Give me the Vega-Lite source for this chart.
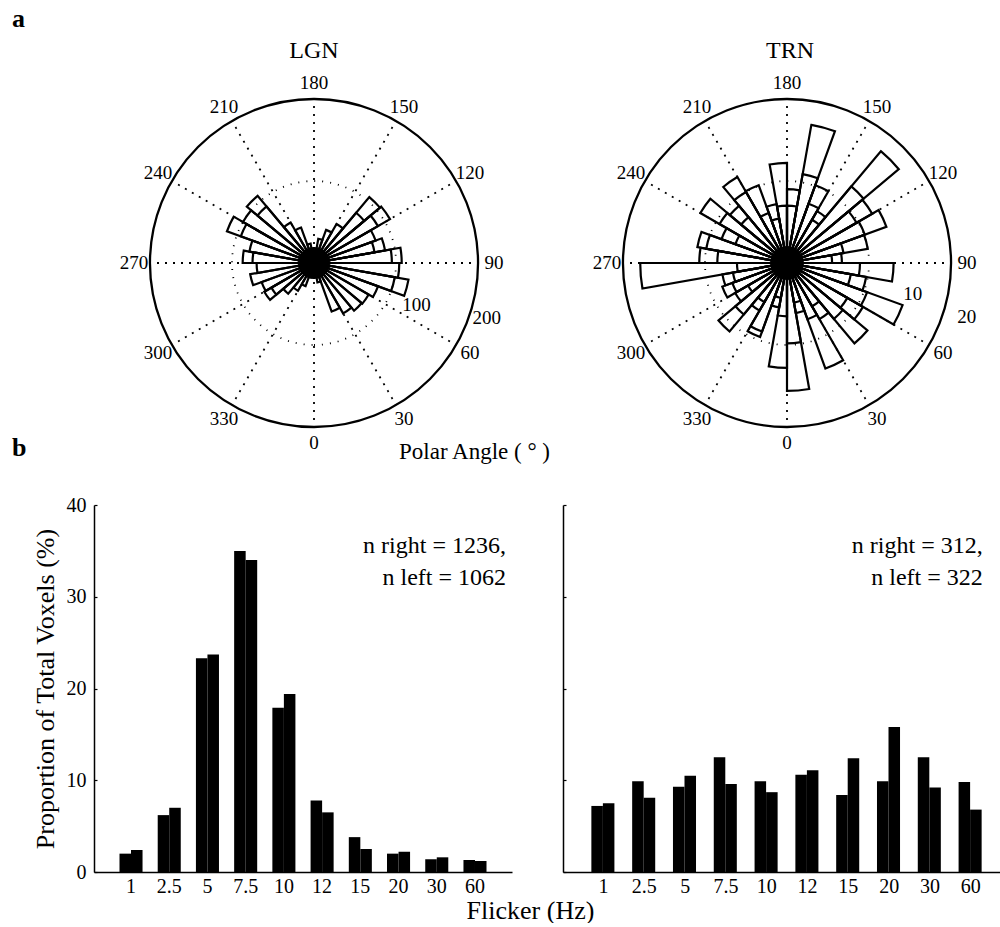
{
  "$schema": "https://vega.github.io/schema/vega-lite/v6.json",
  "background": "white",
  "padding": {"left": 12, "top": 6, "right": 0, "bottom": 0},
  "title": {"text": "a", "anchor": "start", "frame": "group", "dx": -82, "offset": 7, "fontSize": 26, "fontWeight": "bold", "font": "Liberation Serif", "color": "black"},
  "config": {
    "font": "Liberation Serif",
    "view": {"stroke": null},
    "axis": {"domainColor": "black", "tickColor": "black", "labelColor": "black", "titleColor": "black", "labelFont": "Liberation Serif", "titleFont": "Liberation Serif", "titleFontWeight": "normal", "grid": false},
    "title": {"font": "Liberation Serif", "fontWeight": "normal", "color": "black"},
    "text": {"font": "Liberation Serif", "color": "black"}
  },
  "datasets": {
    "angles": [
      {"ang": 0, "lab": "0"}, {"ang": 30, "lab": "30"}, {"ang": 60, "lab": "60"}, {"ang": 90, "lab": "90"},
      {"ang": 120, "lab": "120"}, {"ang": 150, "lab": "150"}, {"ang": 180, "lab": "180"}, {"ang": 210, "lab": "210"},
      {"ang": 240, "lab": "240"}, {"ang": 270, "lab": "270"}, {"ang": 300, "lab": "300"}, {"ang": 330, "lab": "330"}
    ],
    "lgnW": [
      {"t0": 0, "t1": 10, "r": 10}, {"t0": 10, "t1": 20, "r": 24}, {"t0": 20, "t1": 30, "r": 63}, {"t0": 30, "t1": 40, "r": 71},
      {"t0": 40, "t1": 50, "r": 76}, {"t0": 50, "t1": 60, "r": 77}, {"t0": 60, "t1": 70, "r": 83}, {"t0": 70, "t1": 80, "r": 117},
      {"t0": 80, "t1": 90, "r": 104}, {"t0": 90, "t1": 100, "r": 107}, {"t0": 100, "t1": 110, "r": 88}, {"t0": 110, "t1": 120, "r": 80},
      {"t0": 120, "t1": 130, "r": 107}, {"t0": 130, "t1": 140, "r": 105}, {"t0": 140, "t1": 150, "r": 55}, {"t0": 150, "t1": 160, "r": 43},
      {"t0": 160, "t1": 170, "r": 30}, {"t0": 170, "t1": 180, "r": 15}, {"t0": 180, "t1": 190, "r": 12}, {"t0": 190, "t1": 200, "r": 24},
      {"t0": 200, "t1": 210, "r": 46}, {"t0": 210, "t1": 220, "r": 57}, {"t0": 220, "t1": 230, "r": 107}, {"t0": 230, "t1": 240, "r": 100},
      {"t0": 240, "t1": 250, "r": 113}, {"t0": 250, "t1": 260, "r": 80}, {"t0": 260, "t1": 270, "r": 87}, {"t0": 270, "t1": 280, "r": 70},
      {"t0": 280, "t1": 290, "r": 79}, {"t0": 290, "t1": 300, "r": 68}, {"t0": 300, "t1": 310, "r": 70}, {"t0": 310, "t1": 320, "r": 49},
      {"t0": 320, "t1": 330, "r": 39}, {"t0": 330, "t1": 340, "r": 30}, {"t0": 340, "t1": 350, "r": 18}, {"t0": 350, "t1": 360, "r": 12}
    ],
    "lgnS": [
      {"t0": 70, "t1": 80, "r": 100}, {"t0": 90, "t1": 100, "r": 95}, {"t0": 100, "t1": 110, "r": 75},
      {"t0": 120, "t1": 130, "r": 90}, {"t0": 130, "t1": 140, "r": 80}, {"t0": 220, "t1": 230, "r": 90},
      {"t0": 240, "t1": 250, "r": 95}, {"t0": 260, "t1": 270, "r": 75}, {"t0": 300, "t1": 310, "r": 60}
    ],
    "trnW": [
      {"t0": 0, "t1": 10, "r": 15.6}, {"t0": 10, "t1": 20, "r": 6.2}, {"t0": 20, "t1": 30, "r": 13.7}, {"t0": 30, "t1": 40, "r": 7.9},
      {"t0": 40, "t1": 50, "r": 12.8}, {"t0": 50, "t1": 60, "r": 10.7}, {"t0": 60, "t1": 70, "r": 15.0}, {"t0": 70, "t1": 80, "r": 9.8},
      {"t0": 80, "t1": 90, "r": 13.0}, {"t0": 90, "t1": 100, "r": 6.7}, {"t0": 100, "t1": 110, "r": 10.0}, {"t0": 110, "t1": 120, "r": 12.9},
      {"t0": 120, "t1": 130, "r": 12.0}, {"t0": 130, "t1": 140, "r": 17.8}, {"t0": 140, "t1": 150, "r": 7.3}, {"t0": 150, "t1": 160, "r": 10.1},
      {"t0": 160, "t1": 170, "r": 17.1}, {"t0": 170, "t1": 180, "r": 9.0}, {"t0": 180, "t1": 190, "r": 12.2}, {"t0": 190, "t1": 200, "r": 7.3},
      {"t0": 200, "t1": 210, "r": 10.1}, {"t0": 210, "t1": 220, "r": 12.1}, {"t0": 220, "t1": 230, "r": 9.1}, {"t0": 230, "t1": 240, "r": 12.2},
      {"t0": 240, "t1": 250, "r": 8.5}, {"t0": 250, "t1": 260, "r": 11.1}, {"t0": 260, "t1": 270, "r": 10.7}, {"t0": 270, "t1": 280, "r": 17.9},
      {"t0": 280, "t1": 290, "r": 8.0}, {"t0": 290, "t1": 300, "r": 8.4}, {"t0": 300, "t1": 310, "r": 7.3}, {"t0": 310, "t1": 320, "r": 10.9},
      {"t0": 320, "t1": 330, "r": 6.7}, {"t0": 330, "t1": 340, "r": 9.6}, {"t0": 340, "t1": 350, "r": 5.5}, {"t0": 350, "t1": 360, "r": 12.8}
    ],
    "trnS": [
      {"t0": 0, "t1": 10, "r": 9.8}, {"t0": 10, "t1": 20, "r": 4.9}, {"t0": 20, "t1": 30, "r": 7.3}, {"t0": 30, "t1": 40, "r": 6.1},
      {"t0": 40, "t1": 50, "r": 8.9}, {"t0": 50, "t1": 60, "r": 8.5}, {"t0": 60, "t1": 70, "r": 10.4}, {"t0": 70, "t1": 80, "r": 7.9},
      {"t0": 80, "t1": 90, "r": 8.9}, {"t0": 90, "t1": 100, "r": 5.5}, {"t0": 100, "t1": 110, "r": 7.0}, {"t0": 110, "t1": 120, "r": 10.1},
      {"t0": 120, "t1": 130, "r": 9.8}, {"t0": 130, "t1": 140, "r": 12.2}, {"t0": 140, "t1": 150, "r": 6.1}, {"t0": 150, "t1": 160, "r": 7.7},
      {"t0": 160, "t1": 170, "r": 11.0}, {"t0": 170, "t1": 180, "r": 7.0}, {"t0": 180, "t1": 190, "r": 7.0}, {"t0": 190, "t1": 200, "r": 5.5},
      {"t0": 200, "t1": 210, "r": 6.5}, {"t0": 210, "t1": 220, "r": 10.0}, {"t0": 220, "t1": 230, "r": 7.3}, {"t0": 230, "t1": 240, "r": 9.5},
      {"t0": 240, "t1": 250, "r": 6.7}, {"t0": 250, "t1": 260, "r": 10.0}, {"t0": 260, "t1": 270, "r": 8.5}, {"t0": 270, "t1": 280, "r": 6.1},
      {"t0": 280, "t1": 290, "r": 6.7}, {"t0": 290, "t1": 300, "r": 7.1}, {"t0": 300, "t1": 310, "r": 5.5}, {"t0": 310, "t1": 320, "r": 8.2},
      {"t0": 320, "t1": 330, "r": 5.5}, {"t0": 330, "t1": 340, "r": 8.9}, {"t0": 340, "t1": 350, "r": 4.3}, {"t0": 350, "t1": 360, "r": 6.5}
    ],
    "lgnR": [{"lab": "100", "ang": 67.8, "rad": 135}, {"lab": "200", "ang": 72.3, "rad": 221}],
    "trnR": [{"lab": "10", "ang": 76.2, "rad": 15.8}, {"lab": "20", "ang": 73.3, "rad": 22.9}],
    "bars": [
      {"reg": "LGN", "freq": "1", "side": "right", "pct": 2.0}, {"reg": "LGN", "freq": "1", "side": "left", "pct": 2.4},
      {"reg": "LGN", "freq": "2.5", "side": "right", "pct": 6.2}, {"reg": "LGN", "freq": "2.5", "side": "left", "pct": 7.0},
      {"reg": "LGN", "freq": "5", "side": "right", "pct": 23.3}, {"reg": "LGN", "freq": "5", "side": "left", "pct": 23.7},
      {"reg": "LGN", "freq": "7.5", "side": "right", "pct": 35.0}, {"reg": "LGN", "freq": "7.5", "side": "left", "pct": 34.0},
      {"reg": "LGN", "freq": "10", "side": "right", "pct": 17.9}, {"reg": "LGN", "freq": "10", "side": "left", "pct": 19.4},
      {"reg": "LGN", "freq": "12", "side": "right", "pct": 7.8}, {"reg": "LGN", "freq": "12", "side": "left", "pct": 6.5},
      {"reg": "LGN", "freq": "15", "side": "right", "pct": 3.8}, {"reg": "LGN", "freq": "15", "side": "left", "pct": 2.5},
      {"reg": "LGN", "freq": "20", "side": "right", "pct": 2.0}, {"reg": "LGN", "freq": "20", "side": "left", "pct": 2.2},
      {"reg": "LGN", "freq": "30", "side": "right", "pct": 1.4}, {"reg": "LGN", "freq": "30", "side": "left", "pct": 1.6},
      {"reg": "LGN", "freq": "60", "side": "right", "pct": 1.3}, {"reg": "LGN", "freq": "60", "side": "left", "pct": 1.2},
      {"reg": "TRN", "freq": "1", "side": "right", "pct": 7.2}, {"reg": "TRN", "freq": "1", "side": "left", "pct": 7.5},
      {"reg": "TRN", "freq": "2.5", "side": "right", "pct": 9.9}, {"reg": "TRN", "freq": "2.5", "side": "left", "pct": 8.1},
      {"reg": "TRN", "freq": "5", "side": "right", "pct": 9.3}, {"reg": "TRN", "freq": "5", "side": "left", "pct": 10.5},
      {"reg": "TRN", "freq": "7.5", "side": "right", "pct": 12.5}, {"reg": "TRN", "freq": "7.5", "side": "left", "pct": 9.6},
      {"reg": "TRN", "freq": "10", "side": "right", "pct": 9.9}, {"reg": "TRN", "freq": "10", "side": "left", "pct": 8.7},
      {"reg": "TRN", "freq": "12", "side": "right", "pct": 10.6}, {"reg": "TRN", "freq": "12", "side": "left", "pct": 11.1},
      {"reg": "TRN", "freq": "15", "side": "right", "pct": 8.4}, {"reg": "TRN", "freq": "15", "side": "left", "pct": 12.4},
      {"reg": "TRN", "freq": "20", "side": "right", "pct": 9.9}, {"reg": "TRN", "freq": "20", "side": "left", "pct": 15.8},
      {"reg": "TRN", "freq": "30", "side": "right", "pct": 12.5}, {"reg": "TRN", "freq": "30", "side": "left", "pct": 9.2},
      {"reg": "TRN", "freq": "60", "side": "right", "pct": 9.8}, {"reg": "TRN", "freq": "60", "side": "left", "pct": 6.8}
    ]
  },
  "columns": 2,
  "spacing": {"row": 22, "column": 29},
  "bounds": "flush",
  "concat": [
    {
      "width": 440, "height": 440,
      "title": {"text": "LGN", "frame": "group", "offset": -20, "fontSize": 24},
      "encoding": {"x": {"datum": 0, "type": "quantitative", "scale": {"domain": [-1, 1], "range": [0, 440]}, "axis": {"title": "Polar Angle ( ° )", "domain": false, "ticks": false, "labels": false, "grid": false, "titleX": 380, "titleY": -32, "titleBaseline": "middle", "titleAlign": "center", "titleAngle": 0, "titleFontSize": 23}}},
      "layer": [
        {"data": {"name": "angles"}, "mark": {"type": "arc", "filled": false, "stroke": "black", "strokeWidth": 1.8, "strokeDash": [1, 7]},
         "encoding": {"theta": {"field": "ang", "type": "quantitative", "stack": null, "scale": {"type": "linear", "domain": [180, -180], "range": [0, 6.283185307179586], "zero": false, "nice": false}}, "theta2": {"field": "ang"}, "radius": {"datum": 200, "type": "quantitative", "scale": {"type": "linear", "domain": [0, 200], "range": [0, 164], "zero": true, "nice": false}}}},
        {"data": {"values": [{}]}, "mark": {"type": "arc", "filled": false, "stroke": "black", "strokeWidth": 1.8, "strokeDash": [1, 7]},
         "encoding": {"theta": {"datum": 0, "type": "quantitative", "stack": null}, "theta2": {"datum": 360}, "radius": {"datum": 100, "type": "quantitative"}}},
        {"data": {"values": [{}]}, "mark": {"type": "arc", "filled": false, "stroke": "black", "strokeWidth": 2.3},
         "encoding": {"theta": {"datum": 0, "type": "quantitative", "stack": null}, "theta2": {"datum": 360}, "radius": {"datum": 200, "type": "quantitative"}}},
        {"data": {"name": "lgnW"}, "mark": {"type": "arc", "filled": false, "stroke": "black", "strokeWidth": 2.2},
         "encoding": {"theta": {"field": "t0", "type": "quantitative", "stack": null}, "theta2": {"field": "t1"}, "radius": {"field": "r", "type": "quantitative"}}},
        {"data": {"name": "lgnS"}, "mark": {"type": "arc", "filled": false, "stroke": "black", "strokeWidth": 2.2},
         "encoding": {"theta": {"field": "t0", "type": "quantitative", "stack": null}, "theta2": {"field": "t1"}, "radius": {"field": "r", "type": "quantitative"}}},
        {"data": {"values": [{}]}, "mark": {"type": "arc", "fill": "black", "stroke": "black"},
         "encoding": {"theta": {"datum": 0, "type": "quantitative", "stack": null}, "theta2": {"datum": 360}, "radius": {"datum": 19, "type": "quantitative"}}},
        {"data": {"name": "angles"}, "mark": {"type": "text", "fontSize": 19, "align": "center", "baseline": "middle"},
         "encoding": {"theta": {"field": "ang", "type": "quantitative", "stack": null}, "radius": {"datum": 219.5, "type": "quantitative"}, "text": {"field": "lab"}}},
        {"data": {"name": "lgnR"}, "mark": {"type": "text", "fontSize": 19, "align": "center", "baseline": "middle"},
         "encoding": {"theta": {"field": "ang", "type": "quantitative", "stack": null}, "radius": {"field": "rad", "type": "quantitative"}, "text": {"field": "lab"}}}
      ]
    },
    {
      "width": 437, "height": 440,
      "title": {"text": "TRN", "anchor": "start", "frame": "group", "dx": 203, "offset": -20, "fontSize": 24},
      "encoding": {"x": {"datum": 0, "type": "quantitative", "scale": {"domain": [-1, 1], "range": [0, 448]}, "axis": null}},
      "layer": [
        {"data": {"name": "angles"}, "mark": {"type": "arc", "filled": false, "stroke": "black", "strokeWidth": 1.8, "strokeDash": [1, 7]},
         "encoding": {"theta": {"field": "ang", "type": "quantitative", "stack": null, "scale": {"type": "linear", "domain": [180, -180], "range": [0, 6.283185307179586], "zero": false, "nice": false}}, "theta2": {"field": "ang"}, "radius": {"datum": 20, "type": "quantitative", "scale": {"type": "linear", "domain": [0, 20], "range": [0, 164], "zero": true, "nice": false}}}},
        {"data": {"values": [{}]}, "mark": {"type": "arc", "filled": false, "stroke": "black", "strokeWidth": 1.8, "strokeDash": [1, 7]},
         "encoding": {"theta": {"datum": 0, "type": "quantitative", "stack": null}, "theta2": {"datum": 360}, "radius": {"datum": 10, "type": "quantitative"}}},
        {"data": {"values": [{}]}, "mark": {"type": "arc", "filled": false, "stroke": "black", "strokeWidth": 2.3},
         "encoding": {"theta": {"datum": 0, "type": "quantitative", "stack": null}, "theta2": {"datum": 360}, "radius": {"datum": 20, "type": "quantitative"}}},
        {"data": {"name": "trnW"}, "mark": {"type": "arc", "filled": false, "stroke": "black", "strokeWidth": 2.2},
         "encoding": {"theta": {"field": "t0", "type": "quantitative", "stack": null}, "theta2": {"field": "t1"}, "radius": {"field": "r", "type": "quantitative"}}},
        {"data": {"name": "trnS"}, "mark": {"type": "arc", "filled": false, "stroke": "black", "strokeWidth": 2.2},
         "encoding": {"theta": {"field": "t0", "type": "quantitative", "stack": null}, "theta2": {"field": "t1"}, "radius": {"field": "r", "type": "quantitative"}}},
        {"data": {"values": [{}]}, "mark": {"type": "arc", "fill": "black", "stroke": "black"},
         "encoding": {"theta": {"datum": 0, "type": "quantitative", "stack": null}, "theta2": {"datum": 360}, "radius": {"datum": 2, "type": "quantitative"}}},
        {"data": {"name": "angles"}, "mark": {"type": "text", "fontSize": 19, "align": "center", "baseline": "middle"},
         "encoding": {"theta": {"field": "ang", "type": "quantitative", "stack": null}, "radius": {"datum": 21.95, "type": "quantitative"}, "text": {"field": "lab"}}},
        {"data": {"name": "trnR"}, "mark": {"type": "text", "fontSize": 19, "align": "center", "baseline": "middle"},
         "encoding": {"theta": {"field": "ang", "type": "quantitative", "stack": null}, "radius": {"field": "rad", "type": "quantitative"}, "text": {"field": "lab"}}}
      ]
    },
    {
      "width": 418, "height": 367,
      "title": {"text": "b", "anchor": "start", "frame": "group", "dx": -82, "offset": 34, "fontSize": 26, "fontWeight": "bold"},
      "layer": [
        {"data": {"name": "bars"}, "transform": [{"filter": "datum.reg === 'LGN'"}],
         "mark": {"type": "bar", "color": "black"},
         "encoding": {
           "x": {"field": "freq", "type": "ordinal", "scale": {"domain": ["1", "2.5", "5", "7.5", "10", "12", "15", "20", "30", "60"], "paddingInner": 0.397, "paddingOuter": 0.667},
                 "axis": {"ticks": false, "labelAngle": 0, "labelFontSize": 20, "labelPadding": 4, "domainWidth": 1.5, "title": "Flicker (Hz)", "titleFontSize": 26, "titleX": 436, "titleY": 38, "titleBaseline": "middle", "titleAlign": "center"}},
           "xOffset": {"field": "side", "type": "nominal", "scale": {"domain": ["right", "left"], "paddingInner": 0, "paddingOuter": 0}},
           "y": {"field": "pct", "type": "quantitative", "scale": {"domain": [0, 40], "nice": false},
                 "axis": {"values": [0, 10, 20, 30, 40], "tickSize": -3, "tickWidth": 1.2, "labelPadding": 11, "labelFontSize": 20, "domainWidth": 1.5, "title": "Proportion of Total Voxels (%)", "titleFontSize": 26, "titlePadding": 8}}
         }},
        {"data": {"values": [{}]},
         "mark": {"type": "text", "align": "right", "baseline": "middle", "fontSize": 24, "lineHeight": 32, "dx": 31},
         "encoding": {"x": {"datum": "60", "type": "ordinal"}, "y": {"datum": 35.5, "type": "quantitative"}, "text": {"value": ["n right = 1236,", "n left = 1062"]}}}
      ]
    },
    {
      "width": 437, "height": 367,
      "layer": [
        {"data": {"name": "bars"}, "transform": [{"filter": "datum.reg === 'TRN'"}],
         "mark": {"type": "bar", "color": "black"},
         "encoding": {
           "x": {"field": "freq", "type": "ordinal", "scale": {"domain": ["1", "2.5", "5", "7.5", "10", "12", "15", "20", "30", "60"], "paddingInner": 0.404, "paddingOuter": 0.557, "align": 0.624},
                 "axis": {"ticks": false, "labelAngle": 0, "labelFontSize": 20, "labelPadding": 4, "domainWidth": 1.5, "title": null}},
           "xOffset": {"field": "side", "type": "nominal", "scale": {"domain": ["right", "left"], "paddingInner": 0, "paddingOuter": 0}},
           "y": {"field": "pct", "type": "quantitative", "scale": {"domain": [0, 40], "nice": false},
                 "axis": {"values": [0, 10, 20, 30, 40], "tickSize": -3, "tickWidth": 1.2, "labels": false, "domainWidth": 1.5, "title": null}}
         }},
        {"data": {"values": [{}]},
         "mark": {"type": "text", "align": "right", "baseline": "middle", "fontSize": 24, "lineHeight": 32, "dx": 12},
         "encoding": {"x": {"datum": "60", "type": "ordinal"}, "y": {"datum": 35.5, "type": "quantitative"}, "text": {"value": ["n right = 312,", "n left = 322"]}}}
      ]
    }
  ]
}
